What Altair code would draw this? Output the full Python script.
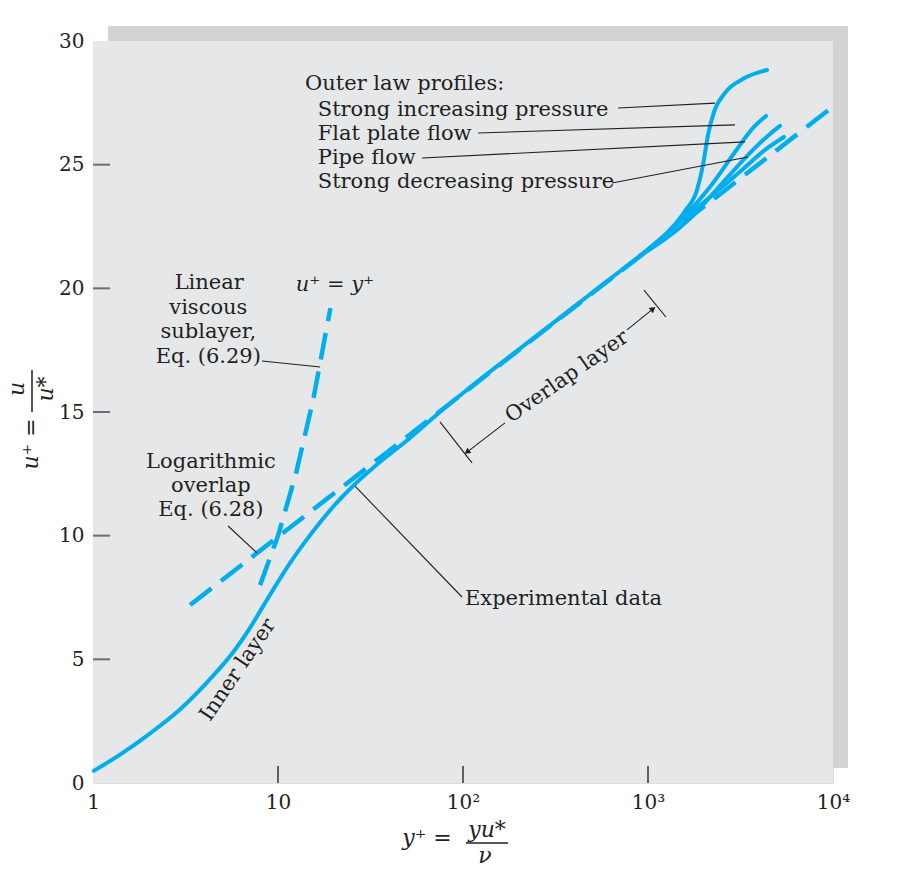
import altair as alt
import pandas as pd

# ---------------- data ----------------
exp_x = [1.01, 1.40, 2.03, 2.95, 4.45, 5.86, 7.06, 8.30, 9.88, 11.6, 14.0, 16.9, 20.3,
         26.1, 33.4, 51.7, 75.1, 109, 203, 379, 550, 905]
exp_y = [0.49, 1.15, 2.00, 2.97, 4.33, 5.39, 6.27, 7.14, 8.07, 8.89, 9.75, 10.54, 11.25,
         12.09, 12.81, 13.95, 15.00, 15.99, 17.56, 19.13, 20.07, 21.31]

sip_x = [905, 1236, 1585, 1841, 1983, 2110, 2275, 2608, 3345, 4398]
sip_y = [21.31, 22.15, 23.12, 23.98, 24.99, 26.20, 27.13, 27.90, 28.51, 28.83]
flat_x = [905, 1489, 2163, 2953, 3648, 4345]
flat_y = [21.31, 22.72, 24.10, 25.51, 26.44, 26.97]
pipe_x = [905, 1687, 2608, 3787, 4564, 5172]
pipe_y = [21.31, 22.82, 24.38, 25.68, 26.24, 26.57]
sdp_x = [905, 1910, 3141, 4290, 5433]
sdp_y = [21.31, 23.35, 24.71, 25.60, 26.12]

log_x = [3.35, 10000]
log_y = [7.20, 27.35]
lin_x = [8.0, 10.0, 12.5, 15.5, 19.2]
lin_y = [8.0, 10.0, 12.5, 15.5, 19.2]

x_tick_values = [1, 10, 100, 1000, 10000]
x_tick_labels = ["1", "10", "10²", "10³", "10⁴"]
y_tick_values = [0, 5, 10, 15, 20, 25, 30]
x_inner_ticks = [10, 100, 1000]
y_inner_ticks = [5, 10, 15, 20, 25]

left_texts = ["Outer law profiles:", "Strong increasing pressure", "Flat plate flow",
              "Pipe flow", "Strong decreasing pressure", "Experimental data"]
left_tx = [14.0, 16.4, 16.4, 16.4, 16.4, 102.5]
left_ty = [28.26, 27.21, 26.24, 25.27, 24.30, 7.44]

center_texts = ["Linear", "viscous", "sublayer,", "Eq. (6.29)",
                "Logarithmic", "overlap", "Eq. (6.28)"]
center_tx = [4.25, 4.2, 4.2, 4.2, 4.34, 4.34, 4.34]
center_ty = [20.22, 19.21, 18.24, 17.22, 12.98, 12.01, 11.04]

eq_text = ["u⁺ = y⁺"]
eq_tx = [20.3]
eq_ty = [20.14]

rot_texts = ["Overlap layer", "Inner layer"]
rot_tx = [365, 6.08]
rot_ty = [16.42, 4.57]
rot_angle = [325, 304]

seg_x = [689, 120.5, 60.0, 639, 8.19, 5.37, 26.1, 75.1, 951, 168.6, 769.8]
seg_y = [27.29, 26.28, 25.27, 24.26, 17.06, 10.39, 12.0, 14.60, 19.93, 14.56, 18.32]
seg_x2 = [2302, 2953, 3345, 3473, 16.9, 7.70, 98.8, 111.9, 1250, 105.1, 1065]
seg_y2 = [27.49, 26.61, 25.92, 25.31, 16.82, 9.30, 7.52, 12.94, 18.84, 13.38, 19.17]

arrow_x = [105.1, 1065]
arrow_y = [13.38, 19.17]
arrow_angle = [233, 51]

# ---------------- styling ----------------
BLUE = "#00aeef"
INK = "#231f20"
FONT = "DejaVu Serif"
FS = 21

xs = alt.Scale(type="log", domain=[1, 10000], nice=False)
ys = alt.Scale(domain=[0, 30], nice=False, zero=False)

label_expr = " : ".join(
    f"datum.value == {v} ? '{l}'" for v, l in zip(x_tick_values[:-1], x_tick_labels[:-1])
) + f" : '{x_tick_labels[-1]}'"

x_axis = alt.Axis(values=x_tick_values, labelExpr=label_expr, ticks=False, domain=False,
                  grid=False, title=None, labelFont=FONT, labelFontSize=20, labelColor=INK,
                  labelPadding=9, labelFlush=False, labelOverlap=False)
y_axis = alt.Axis(values=y_tick_values, ticks=False, domain=False, grid=False, title=None,
                  labelFont=FONT, labelFontSize=20, labelColor=INK, labelPadding=9,
                  labelFlush=False, labelOverlap=False)


def X(field):
    return alt.X(field, scale=xs, axis=x_axis)


def Y(field):
    return alt.Y(field, scale=ys, axis=y_axis)


one = pd.DataFrame({"a": [0]})

shadow = alt.Chart(one).mark_rect(color="#d1d3d4").encode(
    x=alt.value(15), x2=alt.value(755), y=alt.value(-15), y2=alt.value(727))
panel = alt.Chart(one).mark_rect(color="#e6e7e8").encode(
    x=alt.value(0), x2=alt.value(740), y=alt.value(0), y2=alt.value(742))

rows = []
for name, xv, yv in [("exp", exp_x, exp_y), ("sip", sip_x, sip_y), ("flat", flat_x, flat_y),
                     ("pipe", pipe_x, pipe_y), ("sdp", sdp_x, sdp_y)]:
    for i, (a, b) in enumerate(zip(xv, yv)):
        rows.append({"x": a, "y": b, "s": name, "i": i})
solid_df = pd.DataFrame(rows)

solid = alt.Chart(solid_df).mark_line(color=BLUE, strokeWidth=4, strokeCap="round",
                                      strokeJoin="round", interpolate="monotone").encode(
    x=X("x:Q"), y=Y("y:Q"), detail="s:N", order="i:Q")

dash_rows = []
for name, xv, yv in [("log", log_x, log_y), ("lin", lin_x, lin_y)]:
    for i, (a, b) in enumerate(zip(xv, yv)):
        dash_rows.append({"x": a, "y": b, "s": name, "i": i})
dash_df = pd.DataFrame(dash_rows)
dashed = alt.Chart(dash_df).mark_line(color=BLUE, strokeWidth=4.5, strokeDash=[27, 12]).encode(
    x=X("x:Q"), y=Y("y:Q"), detail="s:N", order="i:Q")

ytick_rules = alt.Chart(pd.DataFrame({"v": y_inner_ticks})).mark_rule(
    color="#6d6e71", strokeWidth=2).encode(
    y=Y("v:Q"), x=alt.value(0), x2=alt.value(17))
xtick_rules = alt.Chart(pd.DataFrame({"v": x_inner_ticks})).mark_rule(
    color="#333333", strokeWidth=1.5).encode(
    x=X("v:Q"), y=alt.value(742), y2=alt.value(725))

segs = alt.Chart(pd.DataFrame({"x": seg_x, "y": seg_y, "x2": seg_x2, "y2": seg_y2})).mark_rule(
    color=INK, strokeWidth=1.1).encode(
    x=X("x:Q"), y=Y("y:Q"), x2="x2:Q", y2="y2:Q")

arrows = alt.Chart(pd.DataFrame({"x": arrow_x, "y": arrow_y, "a": arrow_angle})).mark_point(
    shape="triangle-up", filled=True, color=INK, size=45, opacity=1).encode(
    x=X("x:Q"), y=Y("y:Q"), angle=alt.Angle("a:Q", scale=None))

left_t = alt.Chart(pd.DataFrame({"x": left_tx, "y": left_ty, "t": left_texts})).mark_text(
    align="left", baseline="middle", font=FONT, fontSize=FS, color=INK).encode(
    x=X("x:Q"), y=Y("y:Q"), text="t:N")

center_t = alt.Chart(pd.DataFrame({"x": center_tx, "y": center_ty, "t": center_texts})).mark_text(
    align="center", baseline="middle", font=FONT, fontSize=FS, color=INK).encode(
    x=X("x:Q"), y=Y("y:Q"), text="t:N")

eq_t = alt.Chart(pd.DataFrame({"x": eq_tx, "y": eq_ty, "t": eq_text})).mark_text(
    align="center", baseline="middle", font=FONT, fontSize=FS, fontStyle="italic",
    color=INK).encode(
    x=X("x:Q"), y=Y("y:Q"), text="t:N")

rot_t = alt.Chart(pd.DataFrame({"x": rot_tx, "y": rot_ty, "t": rot_texts, "a": rot_angle})).mark_text(
    align="center", baseline="middle", font=FONT, fontSize=FS, color=INK).encode(
    x=X("x:Q"), y=Y("y:Q"), text="t:N", angle=alt.Angle("a:Q", scale=None))


# axis titles (math style, built from pieces)
def txt(s, x, y, angle=0, size=22):
    return alt.Chart(one).mark_text(text=s, align="center", baseline="middle", font=FONT,
                                    fontSize=size, fontStyle="italic", color=INK,
                                    angle=angle).encode(x=alt.value(x), y=alt.value(y))


ytitle = (txt("u⁺ =", -62, 403, angle=270)
          + txt("u", -76, 348, angle=270)
          + txt("u*", -47, 348, angle=270)
          + alt.Chart(one).mark_rule(color=INK, strokeWidth=1.5).encode(
              x=alt.value(-61), y=alt.value(329), y2=alt.value(371)))
xtitle = (txt("y⁺ =", 334, 797)
          + txt("yu*", 394, 789)
          + txt("ν", 392, 815)
          + alt.Chart(one).mark_rule(color=INK, strokeWidth=1.5).encode(
              x=alt.value(373), x2=alt.value(415), y=alt.value(802)))

chart = alt.layer(
    shadow, panel, dashed, solid, ytick_rules, xtick_rules, segs, arrows,
    left_t, center_t, eq_t, rot_t, ytitle, xtitle
).properties(
    width=740, height=742,
    autosize=alt.AutoSizeParams(type="none"),
    padding={"left": 93, "top": 41, "right": 66, "bottom": 102},
).configure_view(strokeWidth=0).configure(background="white")

chart.save("out.html", embed_options={"renderer": "svg", "actions": False})
